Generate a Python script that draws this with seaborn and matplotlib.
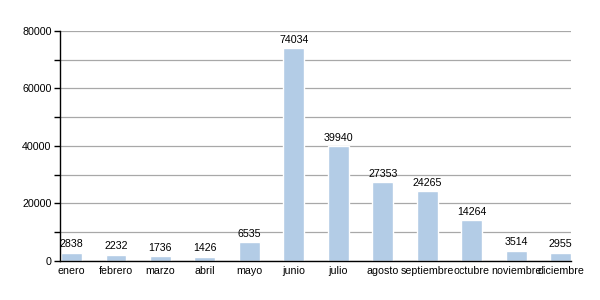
import matplotlib
matplotlib.use("Agg")
import matplotlib.pyplot as plt
import seaborn as sns
import pandas as pd
from matplotlib.ticker import MultipleLocator

months = ["enero", "febrero", "marzo", "abril", "mayo", "junio", "julio",
          "agosto", "septiembre", "octubre", "noviembre", "diciembre"]
values = [2838, 2232, 1736, 1426, 6535, 74034, 39940, 27353, 24265, 14264, 3514, 2955]

sns.set_style("white")
plt.rcParams['font.family'] = ['Liberation Sans', 'DejaVu Sans']
plt.rcParams['text.color'] = 'black'
plt.rcParams['xtick.color'] = 'black'
plt.rcParams['ytick.color'] = 'black'

df = pd.DataFrame({"mes": months, "valor": values})

fig = plt.figure(figsize=(6, 3), dpi=100)
ax = fig.add_axes([0.1, 0.13, 0.852, 0.767])
sns.barplot(data=df, x="mes", y="valor", color="#b3cce6", width=0.47,
            saturation=1, ax=ax, zorder=3)

for i, v in enumerate(values):
    ax.annotate(str(v), (i, v), xytext=(0, 2.5), textcoords="offset points",
                ha="center", va="bottom", fontsize=7.7, color="black")

ax.set_xlim(-0.26, 11.24)
ax.set_ylim(0, 80000)
ax.yaxis.set_major_locator(MultipleLocator(20000))
ax.yaxis.set_minor_locator(MultipleLocator(10000))
ax.grid(axis="y", which="both", color="#a8a8a8", linewidth=0.9, zorder=0)
ax.set_axisbelow(True)
for s in ["top", "right"]:
    ax.spines[s].set_visible(False)
for s in ["left", "bottom"]:
    ax.spines[s].set_color("black")
    ax.spines[s].set_linewidth(1.0)
    ax.spines[s].set_zorder(5)
ax.tick_params(axis="y", which="both", left=True, direction="out", length=4,
               width=1, color="black", labelsize=7.7, labelcolor="black", pad=2)
ax.tick_params(axis="x", bottom=False, labelsize=7.7, labelcolor="black", pad=0)
ax.set_xlabel("")
ax.set_ylabel("")

fig.savefig("out.png", dpi=100)
